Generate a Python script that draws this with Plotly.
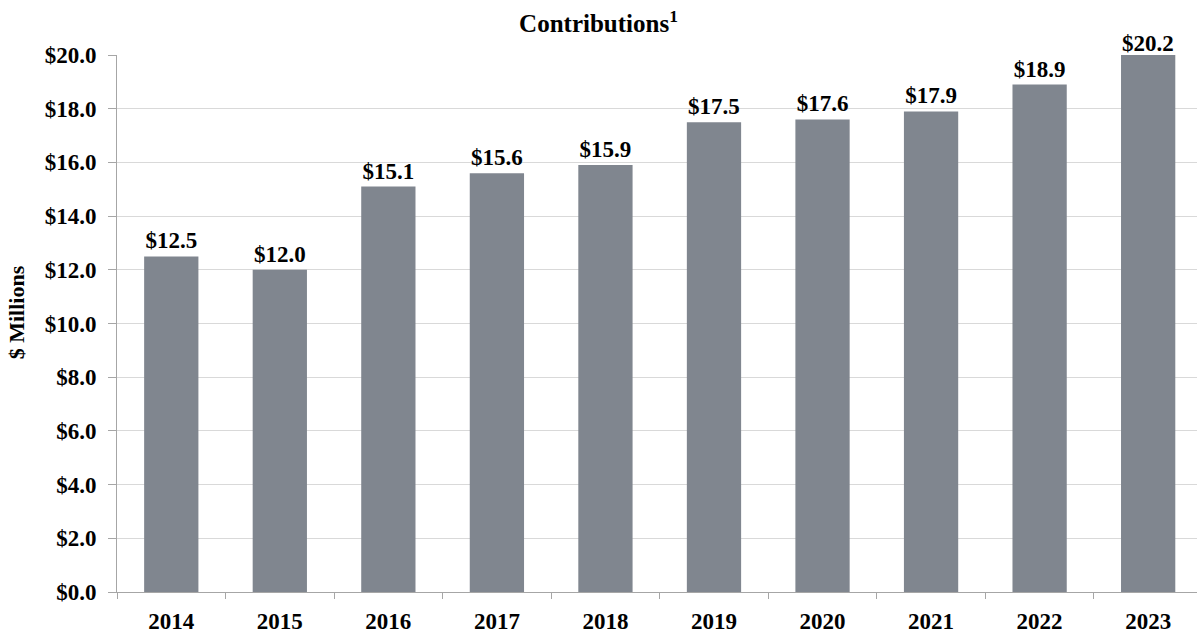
import plotly.graph_objects as go

years = ["2014", "2015", "2016", "2017", "2018", "2019", "2020", "2021", "2022", "2023"]
values = [12.5, 12.0, 15.1, 15.6, 15.9, 17.5, 17.6, 17.9, 18.9, 20.2]
labels = ["$" + f"{v:.1f}" for v in values]
y_ticks = [0, 2, 4, 6, 8, 10, 12, 14, 16, 18, 20]
y_tick_text = ["$" + f"{v:.1f}" for v in y_ticks]
y_max = 20

FONT = "Liberation Serif"
LBL = 23

# labels of bars within the axis range are drawn by the bar itself;
# bars running past the top of the axis get their label as an annotation
bar_text = [t if v <= y_max else "" for t, v in zip(labels, values)]

fig = go.Figure(
    go.Bar(
        x=years,
        y=values,
        text=bar_text,
        textposition="outside",
        cliponaxis=False,
        textfont=dict(family=FONT, size=LBL, color="#000000", weight="bold"),
        marker=dict(color="#80868f", line=dict(width=0)),
        width=0.5,
    )
)

for i, (v, t) in enumerate(zip(values, labels)):
    if v > y_max:
        fig.add_annotation(
            x=i, y=y_max, xref="x", yref="y",
            text="<b>" + t + "</b>", showarrow=False,
            yanchor="bottom", yshift=-3,
            font=dict(family=FONT, size=LBL, color="#000000"),
        )

fig.add_annotation(
    x=-0.093, y=0.52, xref="paper", yref="paper",
    text="<b>$ Millions</b>", showarrow=False, textangle=-90,
    xanchor="center", yanchor="middle",
    font=dict(family=FONT, size=22, color="#000000"),
)

fig.update_layout(
    width=1197,
    height=633,
    margin=dict(l=117, r=0, t=55, b=41, autoexpand=False),
    paper_bgcolor="white",
    plot_bgcolor="white",
    showlegend=False,
    font=dict(family=FONT, color="#000000"),
    title=dict(
        text="<b>Contributions<sup>1</sup></b>",
        x=0.5,
        xanchor="center",
        xref="container",
        yref="container",
        y=0.977,
        yanchor="top",
        font=dict(family=FONT, size=25, color="#000000"),
    ),
    xaxis=dict(
        type="category",
        range=[-0.5, 9.45],
        automargin=False,
        showline=True,
        linecolor="#a6a6a6",
        linewidth=1,
        ticks="outside",
        tickson="boundaries",
        ticklen=6,
        tickcolor="#a6a6a6",
        tickfont=dict(family=FONT, size=LBL, color="#000000", weight="bold"),
        ticklabelstandoff=8,
        showgrid=False,
    ),
    yaxis=dict(
        range=[0, y_max],
        automargin=False,
        tickvals=y_ticks,
        ticktext=y_tick_text,
        showline=True,
        linecolor="#a6a6a6",
        linewidth=1,
        ticks="outside",
        ticklen=8,
        tickcolor="#a6a6a6",
        showgrid=True,
        gridcolor="#d9d9d9",
        gridwidth=1,
        zeroline=False,
        tickfont=dict(family=FONT, size=LBL, color="#000000", weight="bold"),
        ticklabelstandoff=7,
    ),
)

fig.write_html(
    "out.html",
    config={"displayModeBar": False},
    post_script="document.body.style.margin='0';document.body.style.overflow='hidden';",
)
